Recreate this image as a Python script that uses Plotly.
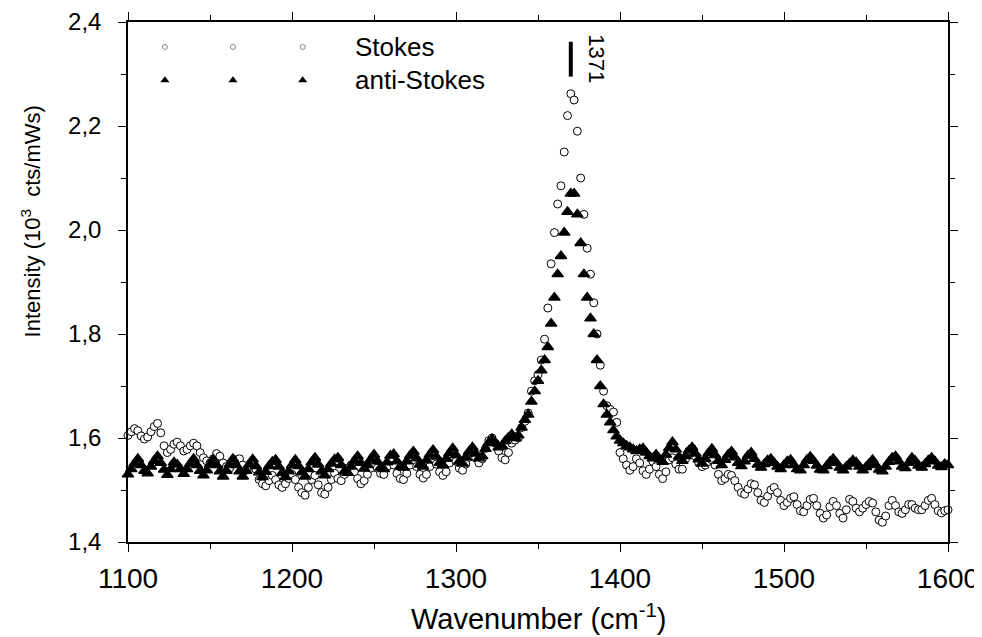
import plotly.graph_objects as go

# Raman spectrum, Stokes vs anti-Stokes
wavenumber = list(range(1100, 1601, 2))

stokes = [
    1.605, 1.612, 1.618, 1.614, 1.604, 1.598, 1.602, 1.612, 1.622, 1.628,  # 1100
    1.610, 1.585, 1.572, 1.578, 1.588, 1.592, 1.585, 1.575, 1.578, 1.585,  # 1120
    1.590, 1.585, 1.572, 1.562, 1.556, 1.552, 1.560, 1.570, 1.565, 1.552,  # 1140
    1.545, 1.542, 1.550, 1.558, 1.560, 1.548, 1.538, 1.545, 1.555, 1.540,  # 1160
    1.520, 1.512, 1.508, 1.518, 1.528, 1.520, 1.510, 1.505, 1.512, 1.522,  # 1180
    1.530, 1.520, 1.505, 1.495, 1.490, 1.505, 1.520, 1.528, 1.510, 1.495,  # 1200
    1.492, 1.505, 1.520, 1.532, 1.522, 1.518, 1.530, 1.542, 1.548, 1.535,  # 1220
    1.522, 1.512, 1.518, 1.530, 1.542, 1.550, 1.542, 1.532, 1.530, 1.545,  # 1240
    1.556, 1.548, 1.532, 1.522, 1.520, 1.532, 1.548, 1.558, 1.545, 1.530,  # 1260
    1.523, 1.530, 1.545, 1.560, 1.550, 1.535, 1.528, 1.535, 1.552, 1.565,  # 1280
    1.555, 1.542, 1.538, 1.550, 1.563, 1.572, 1.562, 1.552, 1.560, 1.580,  # 1300
    1.595, 1.600, 1.590, 1.575, 1.562, 1.558, 1.572, 1.590, 1.596, 1.600,  # 1320
    1.620, 1.632, 1.648, 1.690, 1.710, 1.722, 1.750, 1.790, 1.850, 1.935,  # 1340
    1.995, 2.050, 2.085, 2.150, 2.220, 2.262, 2.250, 2.190, 2.100, 2.030,  # 1360
    1.965, 1.915, 1.860, 1.800, 1.740, 1.690, 1.662, 1.655, 1.650, 1.630,  # 1380
    1.572, 1.560, 1.548, 1.538, 1.545, 1.560, 1.552, 1.537, 1.530, 1.540,  # 1400
    1.555, 1.545, 1.530, 1.522, 1.535, 1.558, 1.562, 1.550, 1.540, 1.540,  # 1420
    1.560, 1.575, 1.580, 1.565, 1.552, 1.545, 1.548, 1.555, 1.558, 1.548,  # 1440
    1.530, 1.518, 1.522, 1.530, 1.528, 1.518, 1.505, 1.495, 1.492, 1.502,  # 1460
    1.512, 1.510, 1.495, 1.480, 1.476, 1.488, 1.500, 1.505, 1.495, 1.480,  # 1480
    1.470, 1.476, 1.484, 1.487, 1.472, 1.460, 1.458, 1.470, 1.482, 1.484,  # 1500
    1.470, 1.455, 1.446, 1.452, 1.468, 1.478, 1.470, 1.455, 1.446, 1.462,  # 1520
    1.482, 1.478, 1.465, 1.458, 1.465, 1.472, 1.478, 1.475, 1.458, 1.442,  # 1540
    1.438, 1.450, 1.470, 1.480, 1.470, 1.458, 1.455, 1.462, 1.472, 1.472,  # 1560
    1.465, 1.462, 1.462, 1.470, 1.480, 1.484, 1.472, 1.460, 1.456, 1.460,  # 1580
    1.462,                                                                 # 1600
]

anti_stokes = [
    1.530, 1.540, 1.551, 1.560, 1.548, 1.537, 1.532, 1.545, 1.556, 1.565,  # 1100
    1.552, 1.539, 1.529, 1.540, 1.553, 1.549, 1.540, 1.531, 1.540, 1.551,  # 1120
    1.560, 1.548, 1.537, 1.528, 1.538, 1.549, 1.559, 1.548, 1.536, 1.526,  # 1140
    1.537, 1.549, 1.560, 1.548, 1.536, 1.526, 1.537, 1.549, 1.559, 1.546,  # 1160
    1.534, 1.525, 1.535, 1.546, 1.554, 1.558, 1.545, 1.533, 1.525, 1.536,  # 1180
    1.548, 1.558, 1.546, 1.534, 1.526, 1.540, 1.553, 1.562, 1.549, 1.536,  # 1200
    1.528, 1.540, 1.551, 1.559, 1.562, 1.548, 1.536, 1.533, 1.545, 1.556,  # 1220
    1.565, 1.552, 1.541, 1.548, 1.559, 1.568, 1.555, 1.543, 1.540, 1.553,  # 1240
    1.566, 1.569, 1.555, 1.545, 1.543, 1.555, 1.566, 1.574, 1.561, 1.549,  # 1260
    1.545, 1.557, 1.568, 1.577, 1.564, 1.552, 1.548, 1.560, 1.571, 1.580,  # 1280
    1.567, 1.555, 1.551, 1.563, 1.574, 1.582, 1.570, 1.561, 1.565, 1.579,  # 1300
    1.591, 1.598, 1.590, 1.582, 1.585, 1.594, 1.601, 1.607, 1.600, 1.605,  # 1320
    1.620, 1.635, 1.645, 1.670, 1.690, 1.710, 1.730, 1.750, 1.775, 1.820,  # 1340
    1.870, 1.915, 1.950, 1.995, 2.035, 2.070, 2.070, 2.030, 1.975, 1.915,  # 1360
    1.870, 1.830, 1.800, 1.750, 1.700, 1.665, 1.645, 1.630, 1.615, 1.603,  # 1380
    1.595, 1.590, 1.585, 1.582, 1.578, 1.575, 1.578, 1.580, 1.572, 1.565,  # 1400
    1.561, 1.568, 1.559, 1.554, 1.568, 1.581, 1.592, 1.578, 1.564, 1.556,  # 1420
    1.565, 1.576, 1.582, 1.570, 1.559, 1.551, 1.560, 1.571, 1.579, 1.567,  # 1440
    1.556, 1.548, 1.558, 1.568, 1.574, 1.563, 1.552, 1.546, 1.555, 1.566,  # 1460
    1.572, 1.560, 1.549, 1.543, 1.550, 1.557, 1.560, 1.552, 1.545, 1.540,  # 1480
    1.548, 1.555, 1.558, 1.548, 1.540, 1.538, 1.548, 1.558, 1.564, 1.556,  # 1500
    1.547, 1.539, 1.538, 1.546, 1.554, 1.560, 1.552, 1.543, 1.538, 1.545,  # 1520
    1.551, 1.557, 1.553, 1.545, 1.538, 1.544, 1.551, 1.558, 1.548, 1.539,  # 1540
    1.536, 1.545, 1.554, 1.562, 1.565, 1.555, 1.545, 1.542, 1.552, 1.562,  # 1560
    1.556, 1.547, 1.543, 1.550, 1.557, 1.562, 1.555, 1.547, 1.544, 1.550,  # 1580
    1.548,                                                                 # 1600
]

x_tick_vals = [1100, 1200, 1300, 1400, 1500, 1600]
y_tick_vals = [1.4, 1.6, 1.8, 2.0, 2.2, 2.4]
y_tick_text = ["1,4", "1,6", "1,8", "2,0", "2,2", "2,4"]

peak_label = "1371"
peak_pos = 1370

# hand-drawn style legend: three sample markers per row
legend_x = [0.045, 0.128, 0.213]
legend_rows = {"Stokes": 0.952, "anti-Stokes": 0.888}

FONT = "Liberation Sans, Arial, sans-serif"

fig = go.Figure()

fig.add_trace(go.Scatter(
    x=wavenumber, y=stokes, mode="markers", name="Stokes",
    marker=dict(symbol="circle", size=8, color="white",
                line=dict(color="black", width=1)),
    cliponaxis=False, showlegend=False,
))
fig.add_trace(go.Scatter(
    x=wavenumber, y=anti_stokes, mode="markers", name="anti-Stokes",
    marker=dict(symbol="triangle-up", size=10, color="black",
                line=dict(color="black", width=1.3)),
    cliponaxis=False, showlegend=False,
))

# legend samples on an invisible overlay axis (0..1 in both directions)
fig.add_trace(go.Scatter(
    x=legend_x, y=[legend_rows["Stokes"]] * 3, mode="markers",
    marker=dict(symbol="circle", size=5, color="white",
                line=dict(color="#888888", width=1)),
    xaxis="x2", yaxis="y2", showlegend=False, hoverinfo="skip",
))
fig.add_trace(go.Scatter(
    x=legend_x, y=[legend_rows["anti-Stokes"]] * 3, mode="markers",
    marker=dict(symbol="triangle-up", size=8, color="black"),
    xaxis="x2", yaxis="y2", showlegend=False, hoverinfo="skip",
))
for label, ypos in legend_rows.items():
    fig.add_annotation(
        x=0.274, y=ypos, xref="paper", yref="paper", text=label,
        showarrow=False, xanchor="left", yanchor="middle",
        font=dict(family=FONT, size=26, color="black"),
    )

# peak marker + label
fig.add_shape(type="line", xref="x", yref="y", x0=peak_pos, x1=peak_pos,
              y0=2.295, y1=2.362, line=dict(color="black", width=4))
fig.add_annotation(
    x=peak_pos + 16, y=2.33, xref="x", yref="y", text=peak_label,
    textangle=90, showarrow=False, xanchor="center", yanchor="middle",
    font=dict(family=FONT, size=22, color="black"),
)

# axis titles
fig.add_annotation(
    x=-0.118, y=0.617, xref="paper", yref="paper",
    text="Intensity (10<sup>3</sup>  cts/mWs)", textangle=-90, showarrow=False,
    xanchor="center", yanchor="middle",
    font=dict(family=FONT, size=22, color="black"),
)
fig.add_annotation(
    x=0.5, y=-0.144, xref="paper", yref="paper",
    text="Wavenumber (cm<sup>-1</sup>)", showarrow=False,
    xanchor="center", yanchor="middle",
    font=dict(family=FONT, size=29, color="black"),
)

axis_common = dict(
    showgrid=False, zeroline=False, showline=True, linecolor="black",
    linewidth=1.5, mirror="ticks", ticks="outside", ticklen=8,
    tickwidth=1.2, tickcolor="black", automargin=False,
)

# page body adds 8px on the left/top, so margins are shifted by that
fig.update_layout(
    width=982, height=637,
    margin=dict(l=120, r=42, t=14, b=103),
    paper_bgcolor="white", plot_bgcolor="white",
    font=dict(family=FONT, color="black"),
    xaxis=dict(
        range=[1100, 1600], tickvals=x_tick_vals,
        tickfont=dict(size=28), ticklabelstandoff=3,
        minor=dict(dtick=50, ticks="outside", ticklen=5, tickcolor="black"),
        **axis_common,
    ),
    yaxis=dict(
        range=[1.4, 2.4], tickvals=y_tick_vals, ticktext=y_tick_text,
        tickfont=dict(size=24), ticklabelstandoff=12,
        minor=dict(dtick=0.1, ticks="outside", ticklen=5, tickcolor="black"),
        **axis_common,
    ),
    xaxis2=dict(range=[0, 1], overlaying="x", visible=False),
    yaxis2=dict(range=[0, 1], overlaying="y", visible=False),
    showlegend=False,
)

fig.write_html("out.html")
